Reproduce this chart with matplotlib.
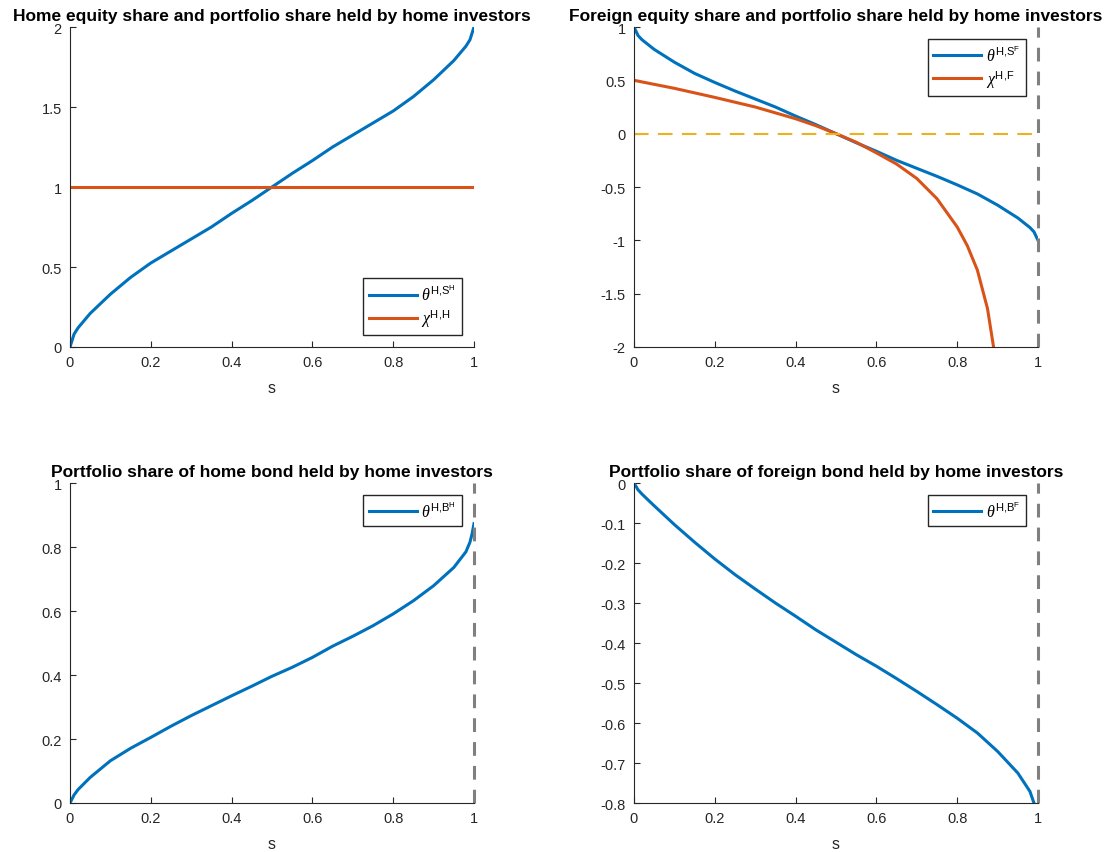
import matplotlib
matplotlib.use('Agg')
import matplotlib.pyplot as plt
from matplotlib.ticker import FuncFormatter

plt.rcParams['font.family'] = ['Liberation Sans', 'DejaVu Sans']
plt.rcParams['mathtext.fontset'] = 'custom'
plt.rcParams['mathtext.rm'] = 'Liberation Sans'
plt.rcParams['mathtext.it'] = 'Liberation Serif:italic'

# valores
s = [0, 0.01, 0.02, 0.05, 0.1, 0.15, 0.2, 0.25, 0.3, 0.35, 0.4, 0.45, 0.5,
     0.55, 0.6, 0.65, 0.7, 0.75, 0.8, 0.85, 0.9, 0.95, 0.98, 0.99, 1.0]
theta_SH = [0, 0.08, 0.12, 0.21, 0.33, 0.435, 0.525, 0.60, 0.675, 0.75, 0.835, 0.915, 1.0,
            1.085, 1.165, 1.25, 1.325, 1.40, 1.475, 1.565, 1.67, 1.79, 1.88, 1.92, 2.0]
chi_HH = [1] * len(s)

theta_SF = [1, 0.92, 0.88, 0.79, 0.67, 0.565, 0.48, 0.40, 0.325, 0.25, 0.165, 0.085, 0.0,
            -0.085, -0.165, -0.25, -0.325, -0.40, -0.48, -0.565, -0.67, -0.79, -0.88, -0.92, -1.0]
s_chi = [0, 0.1, 0.2, 0.3, 0.4, 0.45, 0.5, 0.55, 0.6, 0.65, 0.7, 0.75, 0.8, 0.825, 0.85, 0.875, 0.89]
chi_HF = [0.5, 0.425, 0.34, 0.25, 0.14, 0.075, 0.0, -0.08, -0.18, -0.285, -0.42, -0.61, -0.875,
          -1.05, -1.28, -1.64, -2.0]

s_b = [0, 0.01, 0.02, 0.05, 0.1, 0.15, 0.2, 0.25, 0.3, 0.35, 0.4, 0.45, 0.5, 0.55, 0.6, 0.65,
       0.7, 0.75, 0.8, 0.85, 0.9, 0.95, 0.98, 0.99, 0.995, 1.0]
theta_BH = [0, 0.025, 0.042, 0.08, 0.132, 0.171, 0.205, 0.24, 0.273, 0.304, 0.335, 0.365, 0.396,
            0.424, 0.455, 0.49, 0.521, 0.554, 0.591, 0.632, 0.679, 0.736, 0.785, 0.815, 0.84, 0.873]

s_bf = [0, 0.01, 0.02, 0.05, 0.1, 0.15, 0.2, 0.25, 0.3, 0.35, 0.4, 0.45, 0.5, 0.55, 0.6, 0.65,
        0.7, 0.75, 0.8, 0.85, 0.9, 0.95, 0.98, 0.99]
theta_BF = [0, -0.017, -0.028, -0.057, -0.104, -0.148, -0.19, -0.229, -0.265, -0.30, -0.333, -0.367,
            -0.398, -0.429, -0.458, -0.489, -0.521, -0.554, -0.588, -0.625, -0.671, -0.725, -0.771, -0.8]

azul = '#0072BD'
naranja = '#D95319'
amarillo = '#EDB120'
gris = '#808080'

fig = plt.figure(figsize=(11.15, 8.53), dpi=100)

W = 404 / 1115
H = 320 / 853
pos = [
    [70 / 1115, 1 - 348 / 853, W, H],
    [634 / 1115, 1 - 348 / 853, W, H],
    [70 / 1115, 1 - 804 / 853, W, H],
    [634 / 1115, 1 - 804 / 853, W, H],
]
axs = [fig.add_axes(p) for p in pos]

fmt = FuncFormatter(lambda v, p: '%g' % round(v, 3))

def estilo(ax, ylim, yticks, titulo):
    ax.set_xlim(0, 1)
    ax.set_ylim(*ylim)
    ax.set_xticks([0, 0.2, 0.4, 0.6, 0.8, 1])
    ax.set_yticks(yticks)
    ax.xaxis.set_major_formatter(fmt)
    ax.yaxis.set_major_formatter(fmt)
    ax.spines['top'].set_visible(False)
    ax.spines['right'].set_visible(False)
    for sp in ['left', 'bottom']:
        ax.spines[sp].set_color('#262626')
        ax.spines[sp].set_linewidth(0.8)
    ax.tick_params(direction='in', length=4, labelsize=10.5, colors='#262626', pad=6)
    ax.set_xlabel('s', fontsize=11.5, color='#262626', labelpad=8)
    ax.set_title(titulo, fontsize=12.5, fontweight='bold', pad=5)

def leyenda(ax, loc, ancla):
    ax.legend(loc=loc, bbox_to_anchor=ancla, borderaxespad=0, fancybox=False,
              edgecolor='#262626', fontsize=11.5, handlelength=3.0, handletextpad=0.3,
              borderpad=0.35, labelspacing=0.25, framealpha=1)

# grafico 1
ax = axs[0]
ax.plot(s, theta_SH, color=azul, lw=2.2, label=r'$\theta^{\mathrm{H{,}S}^{\mathrm{H}}}$')
ax.plot(s, chi_HH, color=naranja, lw=2.2, label=r'$\chi^{\mathrm{H{,}H}}$')
estilo(ax, (0, 2), [0, 0.5, 1, 1.5, 2], 'Home equity share and portfolio share held by home investors')
leyenda(ax, 'lower right', (0.970, 0.0375))

# grafico 2
ax = axs[1]
ax.plot(s, theta_SF, color=azul, lw=2.2, label=r'$\theta^{\mathrm{H{,}S}^{\mathrm{F}}}$')
ax.plot(s_chi, chi_HF, color=naranja, lw=2.2, label=r'$\chi^{\mathrm{H{,}F}}$')
ax.axhline(0, color=amarillo, lw=1.5, ls=(0, (7, 4.5)))
ax.axvline(1, color=gris, lw=2.2, ls=(0, (4.5, 3.3)), clip_on=False)
estilo(ax, (-2, 1), [-2, -1.5, -1, -0.5, 0, 0.5, 1], 'Foreign equity share and portfolio share held by home investors')
leyenda(ax, 'upper right', (0.970, 0.9625))

# grafico 3
ax = axs[2]
ax.plot(s_b, theta_BH, color=azul, lw=2.2, label=r'$\theta^{\mathrm{H{,}B}^{\mathrm{H}}}$')
ax.axvline(1, color=gris, lw=2.2, ls=(0, (4.5, 3.3)), clip_on=False)
estilo(ax, (0, 1), [0, 0.2, 0.4, 0.6, 0.8, 1], 'Portfolio share of home bond held by home investors')
leyenda(ax, 'upper right', (0.970, 0.9625))

# grafico 4
ax = axs[3]
ax.plot(s_bf, theta_BF, color=azul, lw=2.2, label=r'$\theta^{\mathrm{H{,}B}^{\mathrm{F}}}$')
ax.axvline(1, color=gris, lw=2.2, ls=(0, (4.5, 3.3)), clip_on=False)
estilo(ax, (-0.8, 0), [-0.8, -0.7, -0.6, -0.5, -0.4, -0.3, -0.2, -0.1, 0], 'Portfolio share of foreign bond held by home investors')
leyenda(ax, 'upper right', (0.970, 0.9625))

fig.savefig('out.png', dpi=100)
